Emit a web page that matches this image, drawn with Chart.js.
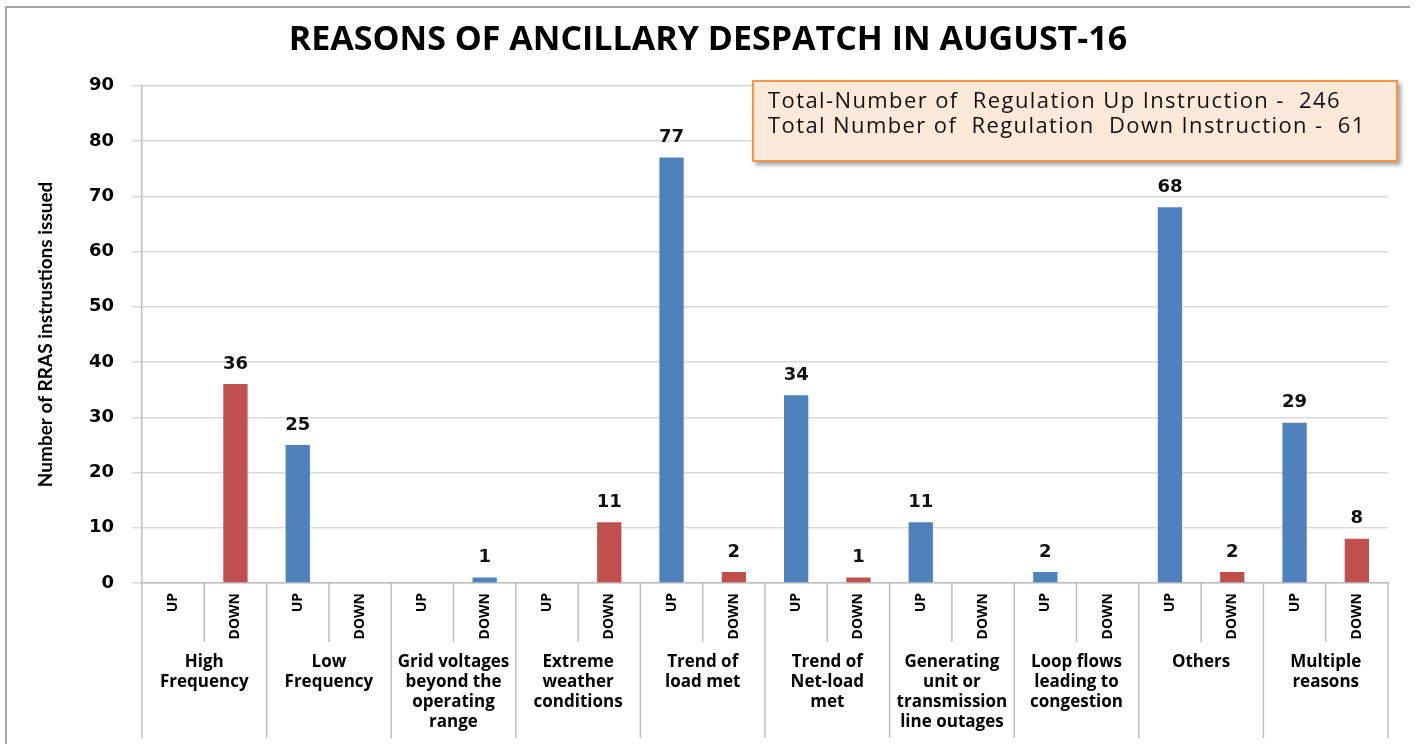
<!DOCTYPE html>
<html>
<head>
<meta charset="utf-8">
<title>Reasons of Ancillary Despatch in August-16</title>
<script src="https://cdn.jsdelivr.net/npm/chart.js@4.4.0/dist/chart.umd.min.js"></script>
<style>
    body { margin: 0; background: #fff; }
    #wrap { position: relative; width: 1416px; height: 744px; overflow: hidden; }
    #frame {
        position: absolute; left: 5px; top: 6px; right: 6px; bottom: 0;
        border-top: 2px solid #a6a6a6; border-left: 2px solid #a6a6a6;
    }
    #chart { position: absolute; left: 0; top: 0; }
    #note {
        position: absolute; left: 752px; top: 80px; width: 628px; height: 66px;
        padding: 5px 0 7px 14px;
        background: #fde9d9; border: 2px solid #f79646;
        box-shadow: 3px 3px 4px rgba(0, 0, 0, 0.35);
        font: 22px "Open Sans", sans-serif; line-height: 25px; letter-spacing: 1.4px; color: #111;
        white-space: pre;
    }
</style>
</head>
<body>
<div id="wrap">
    <div id="frame"></div>
    <canvas id="chart" width="1416" height="744"></canvas>
    <div id="note">Total-Number of  Regulation Up Instruction -  246
Total Number of  Regulation  Down Instruction -  61</div>
</div>
<script>
// Reason groups (two bars each: UP, DOWN)
const groups = [
    ["High", "Frequency"],
    ["Low", "Frequency"],
    ["Grid voltages", "beyond the", "operating", "range"],
    ["Extreme", "weather", "conditions"],
    ["Trend of", "load met"],
    ["Trend of", "Net-load", "met"],
    ["Generating", "unit or", "transmission", "line outages"],
    ["Loop flows", "leading to", "congestion"],
    ["Others"],
    ["Multiple", "reasons"],
];

const directions = [
    "UP", "DOWN", "UP", "DOWN", "UP", "DOWN", "UP", "DOWN", "UP", "DOWN",
    "UP", "DOWN", "UP", "DOWN", "UP", "DOWN", "UP", "DOWN", "UP", "DOWN",
];

// Number of RRAS instructions issued
const counts = [0, 36, 25, 0, 0, 1, 0, 11, 77, 2, 34, 1, 11, 0, 2, 0, 68, 2, 29, 8];

const yTicks = [0, 10, 20, 30, 40, 50, 60, 70, 80, 90];

const BLUE = "#4f81bd";
const RED = "#c0504d";
// the grid-voltage DOWN bar is blue in the original
const barColors = [
    BLUE, RED, BLUE, RED, BLUE, BLUE, BLUE, RED, BLUE, RED,
    BLUE, RED, BLUE, RED, BLUE, RED, BLUE, RED, BLUE, RED,
];

const LINE_GREY = "#bfbfbf";

// Values above the bars (zeros are left blank)
const valueLabels = {
    id: "valueLabels",
    afterDatasetsDraw(chart) {
        const ctx = chart.ctx;
        const meta = chart.getDatasetMeta(0);
        ctx.save();
        ctx.font = 'bold 18px "DejaVu Sans"';
        ctx.fillStyle = "#111";
        ctx.textAlign = "center";
        ctx.textBaseline = "middle";
        meta.data.forEach((bar, i) => {
            if (!counts[i]) return;
            ctx.fillText(String(counts[i]), bar.x, bar.y - 20);
        });
        ctx.restore();
    },
};

// Separator lines of the two-level category axis
const axisSeparators = {
    id: "axisSeparators",
    afterDraw(chart) {
        const ctx = chart.ctx;
        const x = chart.scales.x;
        const g = chart.scales.groups;
        const half = (x.getPixelForValue(1) - x.getPixelForValue(0)) / 2;
        ctx.save();
        ctx.strokeStyle = LINE_GREY;
        ctx.lineWidth = 1.5;
        for (let i = 0; i <= counts.length; i++) {
            const px = i < counts.length ? x.getPixelForValue(i) - half : x.getPixelForValue(i - 1) + half;
            const bottom = i % 2 === 0 ? g.bottom - 6 : x.bottom - 4;
            ctx.beginPath();
            ctx.moveTo(px, x.top);
            ctx.lineTo(px, bottom);
            ctx.stroke();
        }
        ctx.restore();
    },
};

new Chart(document.getElementById("chart"), {
    type: "bar",
    data: {
        labels: directions,
        datasets: [
            {
                data: counts,
                backgroundColor: barColors,
                barPercentage: 0.39,
                categoryPercentage: 1,
            },
        ],
    },
    options: {
        responsive: false,
        animation: false,
        layout: { padding: { left: 28, right: 28, top: 6, bottom: 0 } },
        plugins: {
            legend: { display: false },
            tooltip: { enabled: false },
            title: {
                display: true,
                text: "REASONS OF ANCILLARY DESPATCH IN AUGUST-16",
                color: "#000",
                font: { family: "Open Sans", size: 34, weight: "bold" },
                padding: { top: 14, bottom: 25 },
            },
        },
        scales: {
            x: {
                type: "category",
                offset: true,
                grid: { display: false, drawTicks: false },
                border: { display: true, color: LINE_GREY, width: 1.5 },
                ticks: {
                    autoSkip: false,
                    minRotation: 90,
                    maxRotation: 90,
                    padding: 10,
                    color: "#000",
                    font: { family: "Open Sans", size: 14, weight: "bold" },
                },
                afterFit(scale) { scale.height = 63; },
            },
            groups: {
                type: "category",
                labels: groups,
                position: "bottom",
                offset: true,
                grid: { display: false, drawTicks: false },
                border: { display: false },
                ticks: {
                    autoSkip: false,
                    maxRotation: 0,
                    padding: 6,
                    color: "#000",
                    font: { family: "Open Sans", size: 17, weight: "bold", lineHeight: 1.18 },
                },
                afterFit(scale) { scale.height = 98; },
            },
            y: {
                min: 0,
                max: 90,
                afterBuildTicks(scale) {
                    scale.ticks = yTicks.map((v) => ({ value: v }));
                },
                grid: { color: "#d9d9d9", lineWidth: 1.5, tickLength: 10 },
                border: { color: LINE_GREY, width: 1.5 },
                ticks: {
                    padding: 18,
                    color: "#000",
                    font: { family: "DejaVu Sans", size: 18, weight: "bold" },
                },
                title: {
                    display: true,
                    text: "Number of RRAS instrustions issued",
                    color: "#000",
                    font: { family: "Lato", size: 19, weight: "bold" },
                    padding: { top: 6, bottom: 0 },
                },
                afterFit(scale) { scale.width = 114; },
            },
        },
    },
    plugins: [valueLabels, axisSeparators],
});
</script>
</body>
</html>
